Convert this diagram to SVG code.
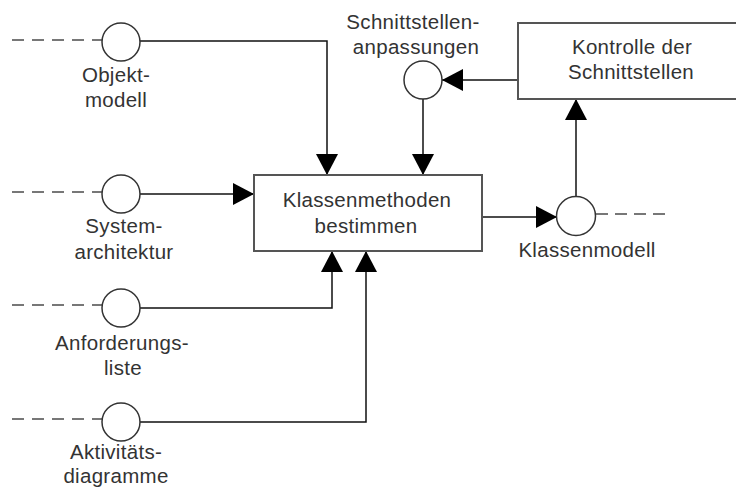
<svg xmlns="http://www.w3.org/2000/svg" width="736" height="488" viewBox="0 0 736 488">
  <style>
    .lbl { font-family: "Liberation Sans", Arial, sans-serif; font-size: 20.5px; letter-spacing: 0.3px; fill: #333; text-anchor: middle; }
    .box { fill: #fff; stroke: #555; stroke-width: 2; }
    .port { fill: #fff; stroke: #333; stroke-width: 1.5; }
    .ext { fill: none; stroke: #777; stroke-width: 2; stroke-dasharray: 12 8; }
    .flow { fill: none; stroke: #111; stroke-width: 1.5; }
  </style>
  <defs>
    <marker id="arrow" viewBox="0 0 21 22" refX="21" refY="11" markerWidth="21" markerHeight="22" markerUnits="userSpaceOnUse" orient="auto">
      <path d="M0,0 L21,11 L0,22 z" fill="#000"/>
    </marker>
  </defs>

  <rect width="736" height="488" fill="#fff"/>

  <!-- connectors -->
  <g id="connectors">
    <path class="ext" d="M12,40 H102"/>
    <path class="ext" d="M12,192 H102"/>
    <path class="ext" d="M12,305 H102"/>
    <path class="ext" d="M12,419 H102"/>
    <path class="ext" d="M596,214 H666" style="stroke-dasharray: 12 7"/>
    <path class="flow" d="M140,41 H327 V175" marker-end="url(#arrow)"/>
    <path class="flow" d="M140,194 H254" marker-end="url(#arrow)"/>
    <path class="flow" d="M140,308 H332 V251" marker-end="url(#arrow)"/>
    <path class="flow" d="M140,422 H366 V251" marker-end="url(#arrow)"/>
    <path class="flow" d="M423,99 V175" marker-end="url(#arrow)"/>
    <path class="flow" d="M518,80 H442" marker-end="url(#arrow)"/>
    <path class="flow" d="M482,217 H557" marker-end="url(#arrow)"/>
    <path class="flow" d="M576,197 V99" marker-end="url(#arrow)"/>
  </g>

  <!-- input ports -->
  <g id="objektmodell">
    <circle class="port" cx="121" cy="42" r="19"/>
    <text class="lbl" x="116" y="82">Objekt-</text>
    <text class="lbl" x="116" y="107">modell</text>
  </g>
  <g id="systemarchitektur">
    <circle class="port" cx="121" cy="194" r="19"/>
    <text class="lbl" x="124" y="233">System-</text>
    <text class="lbl" x="124" y="259">architektur</text>
  </g>
  <g id="anforderungsliste">
    <circle class="port" cx="121" cy="308" r="19"/>
    <text class="lbl" x="122" y="350">Anforderungs-</text>
    <text class="lbl" x="123" y="375">liste</text>
  </g>
  <g id="aktivitaetsdiagramme">
    <circle class="port" cx="121" cy="422" r="19"/>
    <text class="lbl" x="116" y="459">Aktivitäts-</text>
    <text class="lbl" x="116" y="483">diagramme</text>
  </g>

  <!-- activity -->
  <g id="klassenmethoden">
    <rect class="box" x="254" y="175" width="228" height="76"/>
    <text class="lbl" x="367" y="207">Klassenmethoden</text>
    <text class="lbl" x="366" y="233">bestimmen</text>
  </g>

  <!-- control feedback -->
  <g id="schnittstellenanpassungen">
    <circle class="port" cx="423" cy="80" r="19"/>
    <text class="lbl" x="413" y="29">Schnittstellen-</text>
    <text class="lbl" x="416" y="54">anpassungen</text>
  </g>
  <g id="kontrolle">
    <rect class="box" x="518" y="23" width="230" height="76"/>
    <text class="lbl" x="632" y="54">Kontrolle der</text>
    <text class="lbl" x="631" y="79">Schnittstellen</text>
  </g>

  <!-- output port -->
  <g id="klassenmodell">
    <circle class="port" cx="576" cy="216" r="19.5"/>
    <text class="lbl" x="587" y="257">Klassenmodell</text>
  </g>
</svg>
